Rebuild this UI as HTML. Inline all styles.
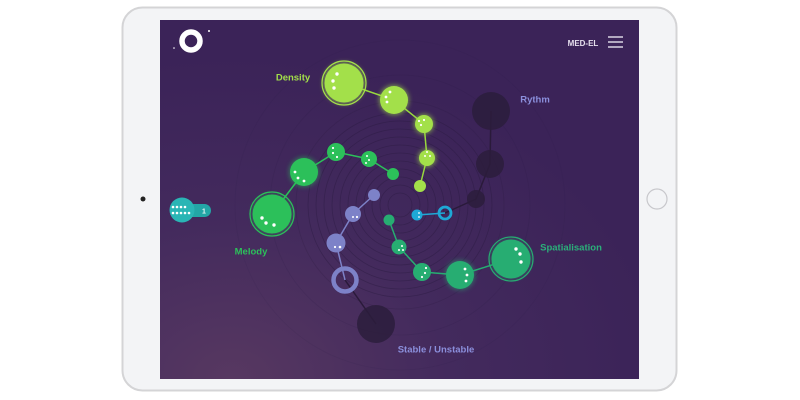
<!DOCTYPE html>
<html><head><meta charset="utf-8"><style>
html,body{margin:0;padding:0;background:#fff;width:800px;height:400px;overflow:hidden}
svg{display:block}
text{font-family:"Liberation Sans",sans-serif;font-weight:bold}
</style></head><body>
<svg width="800" height="400" viewBox="0 0 800 400" xmlns="http://www.w3.org/2000/svg">
<defs>
<radialGradient id="bg" cx="0.15" cy="1" r="0.9">
<stop offset="0" stop-color="#573861"/><stop offset="0.5" stop-color="#432a5d"/><stop offset="1" stop-color="#3b2358"/>
</radialGradient>
<filter id="gl" x="-50%" y="-50%" width="200%" height="200%"><feGaussianBlur stdDeviation="2.5"/></filter>
</defs>
<rect x="122.5" y="7.5" width="554" height="383" rx="20" fill="#f3f4f6" stroke="#d4d4d6" stroke-width="2"/>
<circle cx="143" cy="199" r="2.5" fill="#222"/>
<circle cx="657" cy="199" r="10" fill="#f3f4f6" stroke="#c8c8cc" stroke-width="1.2"/>
<rect x="160" y="20" width="479" height="359" fill="url(#bg)"/>
<g fill="none" stroke="#2a1a40" stroke-opacity="0.45" stroke-width="0.8">
<circle cx="400" cy="205" r="12"/><circle cx="400" cy="205" r="20"/><circle cx="400" cy="205" r="28"/><circle cx="400" cy="205" r="36"/><circle cx="400" cy="205" r="44"/><circle cx="400" cy="205" r="52"/><circle cx="400" cy="205" r="60"/><circle cx="400" cy="205" r="68"/><circle cx="400" cy="205" r="76"/><circle cx="400" cy="205" r="84"/><circle cx="400" cy="205" r="92"/><circle cx="400" cy="205" r="104" stroke-opacity="0.25"/><circle cx="400" cy="205" r="130" stroke-opacity="0.15"/><circle cx="400" cy="205" r="165" stroke-opacity="0.1"/>
</g>
<!-- logo -->
<circle cx="191" cy="41" r="9" fill="none" stroke="#fff" stroke-width="5.5"/>
<circle cx="209" cy="31" r="1" fill="#fff"/><circle cx="174" cy="48" r="0.8" fill="#fff"/>
<text x="583" y="46" font-size="8" fill="#e6e0ee" text-anchor="middle">MED-EL</text>
<g stroke="#e6e0ee" stroke-width="1.4"><line x1="608" y1="37" x2="623" y2="37"/><line x1="608" y1="42" x2="623" y2="42"/><line x1="608" y1="47" x2="623" y2="47"/></g>
<!-- rythm dark -->
<g stroke="#2a1a3a" stroke-width="1.5" fill="none"><polyline points="491,111 490,164 476,199 445,213"/><polyline points="345,280 376,324"/></g>
<g fill="#2c1d3c" opacity="0.85"><circle cx="491" cy="111" r="19"/><circle cx="490" cy="164" r="14"/><circle cx="476" cy="199" r="9"/><circle cx="376" cy="324" r="19"/></g>
<!-- density -->
<polyline points="344,83 394,100 424,124 427,158 420,186" stroke="#98d83e" stroke-width="1.5" fill="none"/>
<g fill="#a3e04a" filter="url(#gl)" opacity="0.6"><circle cx="344" cy="83" r="21"/><circle cx="394" cy="100" r="15"/><circle cx="424" cy="124" r="10"/><circle cx="427" cy="158" r="9"/></g>
<circle cx="344" cy="83" r="22" fill="none" stroke="#a3e04a" stroke-width="1.2"/>
<g fill="#a3e04a"><circle cx="344" cy="83" r="19.5"/><circle cx="394" cy="100" r="14"/><circle cx="424" cy="124" r="9"/><circle cx="427" cy="158" r="8"/><circle cx="420" cy="186" r="6"/></g>
<!-- melody -->
<polyline points="272,214 304,172 336,152 369,159 393,174" stroke="#2cc05a" stroke-width="1.5" fill="none"/>
<g fill="#2cc05a" filter="url(#gl)" opacity="0.5"><circle cx="272" cy="214" r="20"/><circle cx="304" cy="172" r="15"/></g>
<circle cx="272" cy="214" r="22" fill="none" stroke="#2cc05a" stroke-width="1.2"/>
<g fill="#2cc05a"><circle cx="272" cy="214" r="19.5"/><circle cx="304" cy="172" r="14"/><circle cx="336" cy="152" r="9"/><circle cx="369" cy="159" r="8"/><circle cx="393" cy="174" r="6"/></g>
<!-- purple -->
<polyline points="374,195 353,214 336,243 345,280" stroke="#7d82c8" stroke-width="1.5" fill="none"/>
<g fill="#7d82c8"><circle cx="374" cy="195" r="6"/><circle cx="353" cy="214" r="8"/><circle cx="336" cy="243" r="9.5"/></g>
<circle cx="345" cy="280" r="11.5" fill="none" stroke="#7d82c8" stroke-width="4.5"/>
<!-- spatialisation -->
<polyline points="389,220 399,247 422,272 460,275 511,259" stroke="#27ad72" stroke-width="1.5" fill="none"/>
<g fill="#27ad72" filter="url(#gl)" opacity="0.5"><circle cx="460" cy="275" r="15"/><circle cx="511" cy="259" r="20"/></g>
<circle cx="511" cy="259" r="22" fill="none" stroke="#27ad72" stroke-width="1.2"/>
<g fill="#27ad72"><circle cx="389" cy="220" r="5.5"/><circle cx="399" cy="247" r="7.5"/><circle cx="422" cy="272" r="9"/><circle cx="460" cy="275" r="14"/><circle cx="511" cy="259" r="19.5"/></g>
<!-- blue -->
<line x1="417" y1="215" x2="445" y2="213" stroke="#1ea8d6" stroke-width="1.5"/>
<circle cx="417" cy="215" r="5.5" fill="#1ea8d6"/>
<circle cx="445" cy="213" r="6" fill="none" stroke="#1ea8d6" stroke-width="2.8"/>
<!-- dots -->
<g fill="#fff">
<circle cx="337" cy="74" r="1.7"/><circle cx="333" cy="81" r="1.7"/><circle cx="334" cy="88" r="1.7"/>
<circle cx="390" cy="92" r="1.4"/><circle cx="386" cy="97" r="1.4"/><circle cx="387" cy="102" r="1.4"/>
<circle cx="419" cy="121" r="1.1"/><circle cx="424" cy="120" r="1.1"/><circle cx="421" cy="125" r="1.1"/>
<circle cx="425" cy="156" r="1"/><circle cx="430" cy="156" r="1"/><circle cx="427" cy="152" r="1"/>
<circle cx="262" cy="218" r="1.7"/><circle cx="266" cy="223" r="1.7"/><circle cx="274" cy="225" r="1.7"/>
<circle cx="295" cy="172" r="1.4"/><circle cx="298" cy="178" r="1.4"/><circle cx="304" cy="181" r="1.4"/>
<circle cx="333" cy="148" r="1.1"/><circle cx="333" cy="153" r="1.1"/><circle cx="337" cy="157" r="1.1"/>
<circle cx="367" cy="156" r="1"/><circle cx="369" cy="160" r="1"/><circle cx="366" cy="163" r="1"/>
<circle cx="516" cy="249" r="1.7"/><circle cx="520" cy="254" r="1.7"/><circle cx="521" cy="262" r="1.7"/>
<circle cx="465" cy="269" r="1.4"/><circle cx="467" cy="275" r="1.4"/><circle cx="466" cy="281" r="1.4"/>
<circle cx="426" cy="268" r="1.1"/><circle cx="425" cy="273" r="1.1"/><circle cx="422" cy="277" r="1.1"/>
<circle cx="402" cy="246" r="1"/><circle cx="399" cy="250" r="1"/><circle cx="403" cy="250" r="1"/>
<circle cx="340" cy="247" r="1.3"/><circle cx="335" cy="247" r="1.1"/><circle cx="357" cy="217" r="1.1"/><circle cx="353" cy="217" r="1"/>
<circle cx="419" cy="213" r="0.9"/><circle cx="419" cy="217" r="0.9"/>
</g>
<!-- left toggle -->
<rect x="180" y="204" width="31" height="13" rx="6.5" fill="#23a6a6"/>
<circle cx="182" cy="210" r="12.5" fill="#2ab5b5"/>
<text x="204" y="213.5" font-size="7" fill="#e8f6f6" text-anchor="middle">1</text>
<g fill="#fff"><circle cx="173" cy="207" r="1.3"/><circle cx="177" cy="207" r="1.3"/><circle cx="181" cy="207" r="1.3"/><circle cx="185" cy="207" r="1.3"/><circle cx="173" cy="213" r="1.3"/><circle cx="177" cy="213" r="1.3"/><circle cx="181" cy="213" r="1.3"/><circle cx="185" cy="213" r="1.3"/><circle cx="189" cy="213" r="1.3"/></g>
<!-- labels -->
<text x="293" y="80.5" font-size="9.5" fill="#a3e04a" text-anchor="middle">Density</text>
<text x="535" y="102.5" font-size="9.5" fill="#8b8fdc" text-anchor="middle">Rythm</text>
<text x="251" y="254.5" font-size="9.5" fill="#2cc05a" text-anchor="middle">Melody</text>
<text x="571" y="250.5" font-size="9.5" fill="#2bb07a" text-anchor="middle">Spatialisation</text>
<text x="436" y="352.5" font-size="9.5" fill="#8b8fdc" text-anchor="middle">Stable / Unstable</text>
</svg>
</body></html>
